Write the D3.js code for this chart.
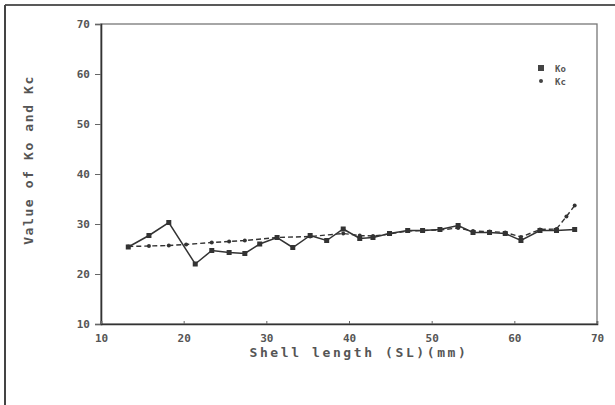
<!DOCTYPE html>
<html>
<head>
<meta charset="utf-8">
<script src="https://cdn.jsdelivr.net/npm/d3@7"></script>
<style>
  body { margin: 0; background: #fff; }
  text { font-family: "DejaVu Sans Mono", monospace; fill: #555; }
</style>
</head>
<body>
<svg id="chart" width="615" height="405"></svg>
<script>
// shell length (mm) where the values were measured
const shellLength = [13.3, 15.8, 18.2, 21.4, 23.4, 25.5, 27.4, 29.2, 31.3, 33.2, 35.3, 37.3, 39.3,
    41.3, 42.9, 44.9, 47.1, 48.9, 51, 53.2, 55, 57, 58.9, 60.8, 63.1, 65.1, 67.3];
const koValues = [25.4, 27.7, 30.3, 22.0, 24.7, 24.3, 24.1, 26.0, 27.3, 25.3, 27.7, 26.7, 29.0,
    27.1, 27.3, 28.1, 28.7, 28.7, 28.9, 29.7, 28.3, 28.3, 28.1, 26.7, 28.7, 28.7, 28.9];
const kcLength = [13.3, 15.8, 18.2, 20.3, 23.4, 25.5, 27.4, 31.3, 35.3, 39.3, 41.3, 42.9, 44.9,
    47.1, 48.9, 51, 53.2, 55, 57, 58.9, 60.8, 63.1, 65.1, 66.3, 67.3];
const kcValues = [25.5, 25.6, 25.7, 25.9, 26.3, 26.5, 26.7, 27.3, 27.5, 28.1, 27.7, 27.6, 28.0,
    28.6, 28.7, 28.8, 29.2, 28.6, 28.5, 28.3, 27.4, 28.9, 29.0, 31.5, 33.7];
const xTicks = [10, 20, 30, 40, 50, 60, 70];
const yTicks = [10, 20, 30, 40, 50, 60, 70];
const legendLabels = ['Ko', 'Kc'];

const svg = d3.select('#chart');
const ink = '#333';

// scanned page frame: only top and left edges show
svg.append('line').attr('x1', 5).attr('y1', 5).attr('x2', 615).attr('y2', 5)
    .attr('stroke', '#222').attr('stroke-width', 1.5);
svg.append('line').attr('x1', 5).attr('y1', 5).attr('x2', 5).attr('y2', 405)
    .attr('stroke', '#444').attr('stroke-width', 2);

const x = d3.scaleLinear().domain([10, 70]).range([101, 597]);
const y = d3.scaleLinear().domain([10, 70]).range([324, 24]);

// plot box
svg.append('rect')
    .attr('x', x(10)).attr('y', y(70))
    .attr('width', x(70) - x(10)).attr('height', y(10) - y(70))
    .attr('fill', 'none').attr('stroke', '#777').attr('stroke-width', 1.3);

const yAxis = svg.append('g')
    .attr('transform', `translate(${x(10)},0)`)
    .call(d3.axisLeft(y).tickValues(yTicks).tickSize(6).tickPadding(5));
const xAxis = svg.append('g')
    .attr('transform', `translate(0,${y(10)})`)
    .call(d3.axisBottom(x).tickValues(xTicks).tickSize(-3).tickPadding(10));

for (let axis of [xAxis, yAxis]) {
    axis.select('.domain').attr('stroke', ink).attr('stroke-width', 1.6);
    axis.selectAll('.tick line').attr('stroke', '#666');
    axis.selectAll('.tick text')
        .style('font-size', '11px')
        .style('font-weight', 'bold')
        .attr('fill', '#666');
}

// Ko: solid line with squares
const koPoints = shellLength.map((v, i) => [v, koValues[i]]);
const kcPoints = kcLength.map((v, i) => [v, kcValues[i]]);
const line = d3.line().x(d => x(d[0])).y(d => y(d[1]));

svg.append('path')
    .attr('d', line(kcPoints))
    .attr('fill', 'none').attr('stroke', ink)
    .attr('stroke-width', 1.4).attr('stroke-dasharray', '5,3');
svg.append('path')
    .attr('d', line(koPoints))
    .attr('fill', 'none').attr('stroke', ink).attr('stroke-width', 1.5);

svg.append('g').selectAll('rect')
    .data(koPoints)
    .join('rect')
    .attr('x', d => x(d[0]) - 2.5).attr('y', d => y(d[1]) - 2.5)
    .attr('width', 5).attr('height', 5)
    .attr('fill', ink);
svg.append('g').selectAll('circle')
    .data(kcPoints)
    .join('circle')
    .attr('cx', d => x(d[0])).attr('cy', d => y(d[1]))
    .attr('r', 2)
    .attr('fill', ink);

// legend
const legend = svg.append('g').attr('transform', 'translate(541,68)');
legend.append('rect').attr('x', -3).attr('y', -3).attr('width', 6).attr('height', 6).attr('fill', '#444');
legend.append('circle').attr('cx', 0).attr('cy', 13).attr('r', 2).attr('fill', '#444');
legend.selectAll('text')
    .data(legendLabels)
    .join('text')
    .attr('x', 14).attr('y', (d, i) => i * 13 + 3.5)
    .style('font-size', '9px')
    .style('font-weight', 'bold')
    .text(d => d);

// axis titles
svg.append('text')
    .attr('x', 359).attr('y', 357)
    .attr('text-anchor', 'middle')
    .style('font-size', '13px')
    .style('font-weight', 'bold')
    .style('letter-spacing', '2.6px')
    .text('Shell length (SL)(mm)');
svg.append('text')
    .attr('transform', 'translate(33,160) rotate(-90)')
    .attr('text-anchor', 'middle')
    .style('font-size', '13px')
    .style('font-weight', 'bold')
    .style('letter-spacing', '1.6px')
    .text('Value of Ko and Kc');
</script>
</body>
</html>
